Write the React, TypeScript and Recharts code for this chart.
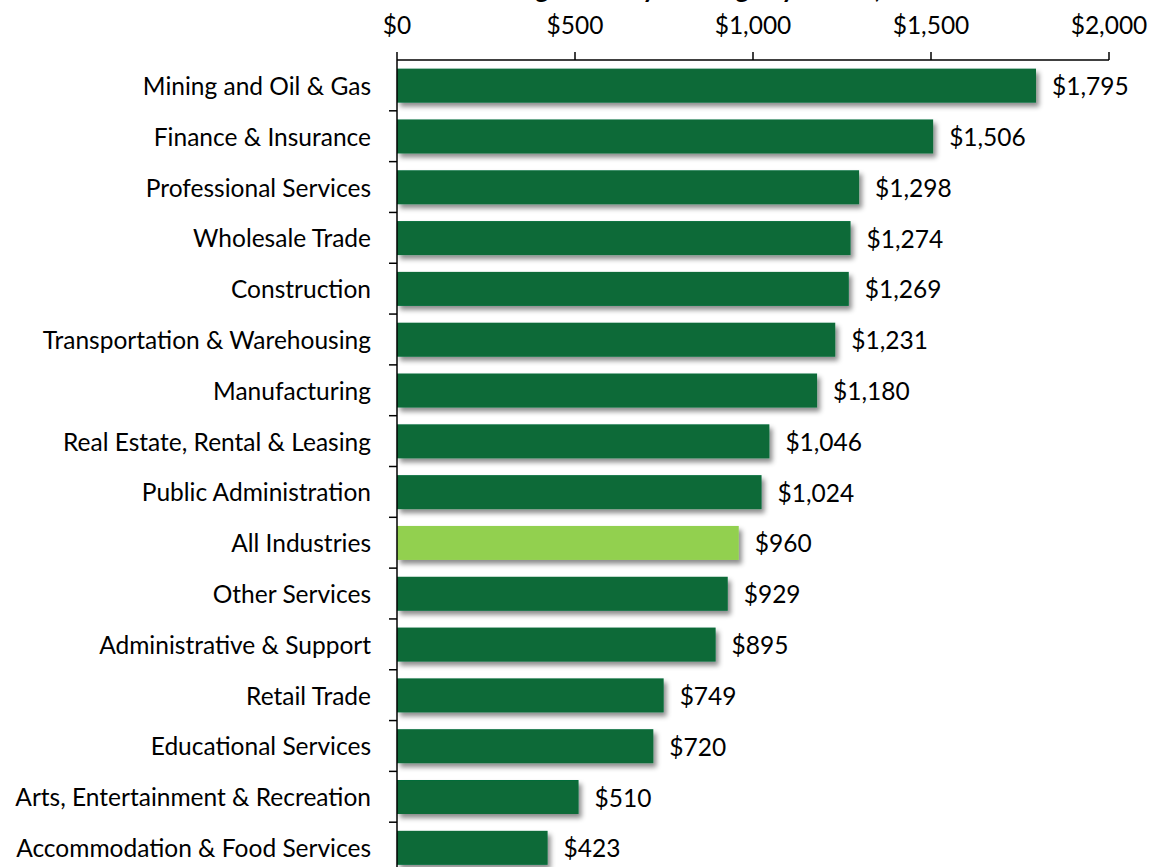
import React from "react";
import { BarChart, Bar, XAxis, YAxis, Cell, LabelList } from "recharts";

const categories = [
  "Mining and Oil & Gas",
  "Finance & Insurance",
  "Professional Services",
  "Wholesale Trade",
  "Construction",
  "Transportation & Warehousing",
  "Manufacturing",
  "Real Estate, Rental & Leasing",
  "Public Administration",
  "All Industries",
  "Other Services",
  "Administrative & Support",
  "Retail Trade",
  "Educational Services",
  "Arts, Entertainment & Recreation",
  "Accommodation & Food Services",
];
const weeklyEarnings = [1795, 1506, 1298, 1274, 1269, 1231, 1180, 1046, 1024, 960, 929, 895, 749, 720, 510, 423];
const xTicks = [0, 500, 1000, 1500, 2000];
const highlightCategory = "All Industries";
const titleText = "Average Weekly Earnings by Sector, 2019";

const data = categories.map((name, i) => ({ name, value: weeklyEarnings[i] }));

const FONT = "Lato, 'Open Sans', sans-serif";
const FS = 24.5;
const DARK = "#076b39";
const LIGHT = "#92d050";

const W = 1154;
const H = 880;
const MARGIN = { top: 0, right: 45, bottom: 7, left: 0 };
const X_AXIS_H = 60;
const Y_AXIS_W = 397;
const bandSize = (H - MARGIN.top - MARGIN.bottom - X_AXIS_H) / categories.length;

const fmt = (v: number) => "$" + v.toLocaleString("en-US");

const YTick = (props: any) => {
  const { x, y, payload } = props;
  return (
    <g>
      <text x={x - 26} y={y} textAnchor="end" dominantBaseline="central" fontFamily={FONT} fontSize={FS} fill="#000">
        {payload.value}
      </text>
      <line x1={x - 8} x2={x} y1={y + bandSize / 2} y2={y + bandSize / 2} stroke="#000" strokeWidth={1.5} />
    </g>
  );
};

const BarShape = (props: any) => {
  const { x, y, width, height, fill } = props;
  return <rect x={x} y={y} width={width} height={height} fill={fill} filter="url(#barShadow)" />;
};

const ValueLabel = (props: any) => {
  const { x, y, width, height, value } = props;
  return (
    <text x={x + width + 16} y={y + height / 2} dominantBaseline="central" fontFamily={FONT} fontSize={FS} fill="#000">
      {fmt(value)}
    </text>
  );
};

export default function App() {
  return (
    <div style={{ position: "absolute", left: 0, top: 0, width: W, height: 867, overflow: "hidden", background: "#fff" }}>
      <div
        style={{
          position: "absolute",
          left: 468,
          top: -25,
          fontFamily: FONT,
          fontWeight: 700,
          fontSize: 26,
          lineHeight: "26px",
          whiteSpace: "nowrap",
          color: "#000",
        }}
      >
        {titleText}
      </div>
      <BarChart width={W} height={H} data={data} layout="vertical" margin={MARGIN} barCategoryGap="17%">
        <defs>
          <filter id="barShadow" x="-5%" y="-30%" width="115%" height="170%">
            <feDropShadow dx={3} dy={4} stdDeviation={2.5} floodColor="#000" floodOpacity={0.45} />
          </filter>
        </defs>
        <XAxis
          type="number"
          orientation="top"
          domain={[0, 2000]}
          ticks={xTicks}
          height={X_AXIS_H}
          tickFormatter={fmt}
          tick={{ fontFamily: FONT, fontSize: FS, fill: "#000" }}
          tickSize={8}
          tickMargin={18}
          axisLine={{ stroke: "#000", strokeWidth: 1.5 }}
          tickLine={{ stroke: "#000", strokeWidth: 1.5 }}
          interval={0}
        />
        <YAxis
          type="category"
          dataKey="name"
          width={Y_AXIS_W}
          tick={<YTick />}
          tickLine={false}
          tickSize={0}
          tickMargin={0}
          axisLine={{ stroke: "#000", strokeWidth: 1.5 }}
          interval={0}
        />
        <Bar dataKey="value" isAnimationActive={false} shape={<BarShape />}>
          {data.map((d) => (
            <Cell key={d.name} fill={d.name === highlightCategory ? LIGHT : DARK} />
          ))}
          <LabelList dataKey="value" content={<ValueLabel />} />
        </Bar>
      </BarChart>
    </div>
  );
}
